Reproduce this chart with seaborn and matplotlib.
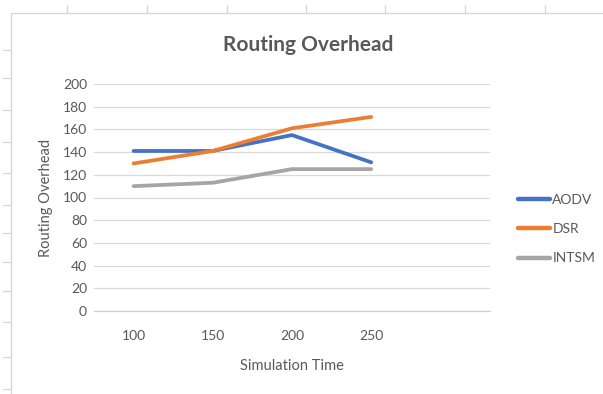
import matplotlib
matplotlib.use("Agg")
import matplotlib.pyplot as plt
from matplotlib.lines import Line2D
import seaborn as sns
import pandas as pd
import numpy as np

# ---- data ----
categories = ["100", "150", "200", "250", ""]
aodv = [141, 141, 155, 131]
dsr = [130, 141, 161, 171]
intsm = [110, 113, 125, 125]
series_names = ["AODV", "DSR", "INTSM"]
colors = ["#4472C4", "#ED7D31", "#A5A5A5"]

rows = []
for name, vals in zip(series_names, [aodv, dsr, intsm]):
    for i, v in enumerate(vals):
        rows.append({"pos": i, "value": v, "series": name})
df = pd.DataFrame(rows)

sns.set_theme(style="white")
plt.rcParams["font.family"] = ["Lato", "DejaVu Sans"]
txt = "#595959"

fig = plt.figure(figsize=(6.03, 3.94), dpi=100)
W, H = 603, 394
ax = fig.add_axes([94 / W, 1 - 311 / H, (490 - 94) / W, (311 - 84) / H])

sns.lineplot(data=df, x="pos", y="value", hue="series", palette=colors,
             linewidth=2.7, ax=ax, legend=True)

ax.set_ylim(0, 200)
ax.set_xlim(-0.5, len(categories) - 0.5)
ax.set_yticks(np.arange(0, 201, 20))
ax.yaxis.grid(True, color="#d9d9d9", linewidth=0.9)
ax.set_axisbelow(True)
for s in ["top", "right", "left"]:
    ax.spines[s].set_visible(False)
ax.spines["bottom"].set_color("#d0d0d0")
ax.spines["bottom"].set_linewidth(0.9)

ax.set_xticks(range(len(categories) - 1))
ax.set_xticklabels(categories[:-1])
ax.set_xticks(np.arange(-0.5, len(categories), 1.0), minor=True)
ax.tick_params(axis="x", which="major", length=0, pad=14, labelsize=10, labelcolor=txt)
ax.tick_params(axis="x", which="minor", length=5, color="#d0d0d0", width=0.9, direction="out")
ax.tick_params(axis="y", length=0, pad=5, labelsize=10, labelcolor=txt)

ax.set_xlabel("Simulation Time", fontsize=10.5, color=txt, labelpad=12)
ax.set_ylabel("Routing Overhead", fontsize=10.5, color=txt, labelpad=7)

fig.text(308 / W, 1 - 45 / H, "Routing Overhead", ha="center", va="center",
         fontsize=15, fontweight="bold", color=txt)

leg = ax.legend(loc="center left", bbox_to_anchor=(512 / W, 1 - 229 / H),
                bbox_transform=fig.transFigure, frameon=False, fontsize=10,
                handlelength=2.3, handletextpad=0.2, labelspacing=1.25,
                borderaxespad=0)
for t in leg.get_texts():
    t.set_color(txt)
for l in leg.get_lines():
    l.set_linewidth(3.2)

# spreadsheet frame decoration
fc = "#d6d6d6"
def fl(x0, y0, x1, y1):
    fig.add_artist(Line2D([x0 / W, x1 / W], [1 - y0 / H, 1 - y1 / H],
                          color=fc, linewidth=0.9, transform=fig.transFigure))
fl(11, 13, W, 13)
fl(11, 13, 11, H)
for x in [67, 147, 227, 306, 385, 465, 545]:
    fl(x, 5, x, 13)
for y in [50, 78, 110, 142, 173, 205, 233, 262, 291, 322, 357, 389]:
    fl(3, y, 11, y)

fig.savefig("out.png", dpi=100)
